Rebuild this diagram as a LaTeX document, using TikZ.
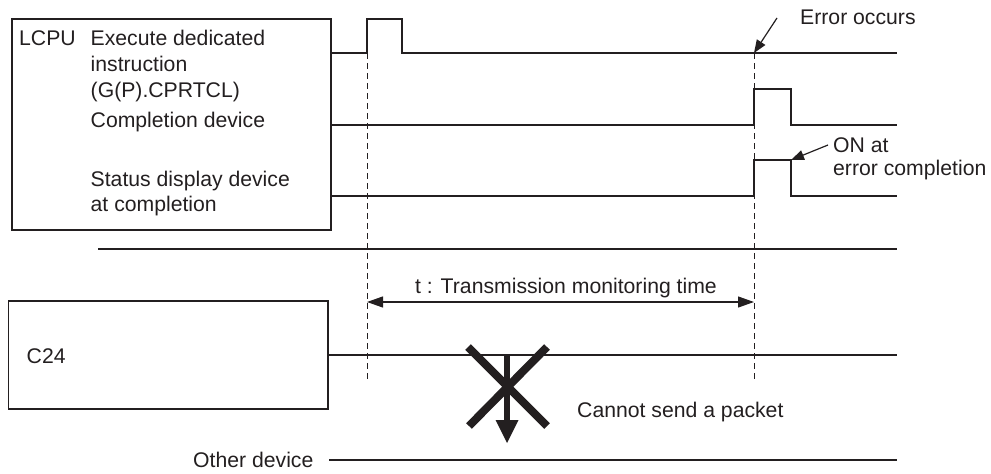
\documentclass[tikz,border=0pt]{standalone}
\usepackage{fontspec}
\setmainfont{Liberation Sans}
\usetikzlibrary{arrows.meta}
\definecolor{ink}{RGB}{35,31,32}
\begin{document}
\begin{tikzpicture}[x=1pt,y=-1pt,
  txt/.style={anchor=base west,inner sep=0pt,text=ink,font=\fontsize{21.2}{25}\selectfont},
  thin/.style={draw=ink,line width=1.1pt},
  boxline/.style={draw=ink,line width=1.3pt,inner sep=0pt,outer sep=0pt},
  thick/.style={draw=ink,line width=2.6pt},
  guide/.style={draw=ink,line width=1pt,dash pattern=on 6pt off 4pt},
  pointer/.style={draw=ink,line width=1.2pt,-{Triangle[length=13pt,width=10pt]}},
  span/.style={draw=ink,line width=1.2pt,{Triangle[length=16pt,width=11pt]}-{Triangle[length=16pt,width=11pt]}}]
\useasboundingbox (0,0) rectangle (991,474);

% boxes
\node[boxline,minimum width=319pt,minimum height=211pt] (lcpuBox) at (171.5,124.5) {};
\node[boxline,minimum width=319.5pt,minimum height=108pt] (c24Box) at (168.25,355) {};

% labels in LCPU box
\node[txt] (lcpu) at (19,45.5) {LCPU};
\node[txt] (exec1) at (90.5,45.5) {Execute dedicated};
\node[txt] (exec2) at (90.5,71.5) {instruction};
\node[txt] (exec3) at (90.5,97) {(G(P).CPRTCL)};
\node[txt] (comp) at (90.5,127.5) {Completion device};
\node[txt] (stat1) at (90.5,186.5) {Status display device};
\node[txt] (stat2) at (90.5,211.5) {at completion};

% timing coordinates
\coordinate (tErr) at (754,53);

% execute waveform
\draw[thin] (lcpuBox.east |- 0,53) -- (367,53) -- (367,19) -- (402,19) -- (402,53) -- (897,53);
% completion device
\draw[thin] (lcpuBox.east |- 0,125) -- (754,125) (754,125) -- (754,89) -- (791,89) -- (791,125) -- (897,125);
% status display device
\draw[thin] (lcpuBox.east |- 0,196) -- (754,196) (754,196) -- (754,160) -- (791,160) -- (791,196) -- (897,196);

% guides
\coordinate (gA1) at (367,53);
\coordinate (gA2) at (367,380);
\coordinate (gB1) at (754,53);
\coordinate (gB2) at (754,380);
\draw[guide] (gA1) -- (gA2);
\draw[guide] (gB1) -- (gB2);

% error occurs
\node[txt] (err) at (800,24.5) {Error occurs};
\coordinate (errTail) at (777,18);
\draw[pointer] (errTail) -- (tErr);

% ON at error completion
\node[txt] (on1) at (833,152.5) {ON at};
\node[txt] (on2) at (833,175.5) {error completion};
\coordinate (onTail) at (828,145);
\coordinate (onTip) at (791,160);
\draw[pointer] (onTail) -- (onTip);

% separator
\coordinate (sepL) at (98,249);
\coordinate (sepR) at (897,249);
\draw[thick] (sepL) -- (sepR);

% monitoring time
\node[txt,anchor=base] (tmon) at (566,293) {t : Transmission monitoring time};
\coordinate (spL) at (367,302);
\coordinate (spR) at (754,302);
\draw[span] (spL) -- (spR);

% C24
\node[txt] (c24) at (26.5,363) {C24};
\coordinate (c24R) at (897,355);
\draw[thick] (c24Box.east) -- (c24R);

% X and arrow
\draw[ink,line width=8pt] (468,347) -- (547,426);
\draw[ink,line width=8pt] (469,426) -- (547,347);
\draw[ink,line width=6pt] (507,355) -- (507,422);
\fill[ink] (495.5,420) -- (518.5,420) -- (507,443) -- cycle;
\node[txt] (cannot) at (577,417.5) {Cannot send a packet};

% other device
\node[txt] (other) at (193,467.5) {Other device};
\coordinate (oL) at (329,460);
\coordinate (oR) at (897,460);
\draw[thick] (oL) -- (oR);
\end{tikzpicture}
\end{document}
